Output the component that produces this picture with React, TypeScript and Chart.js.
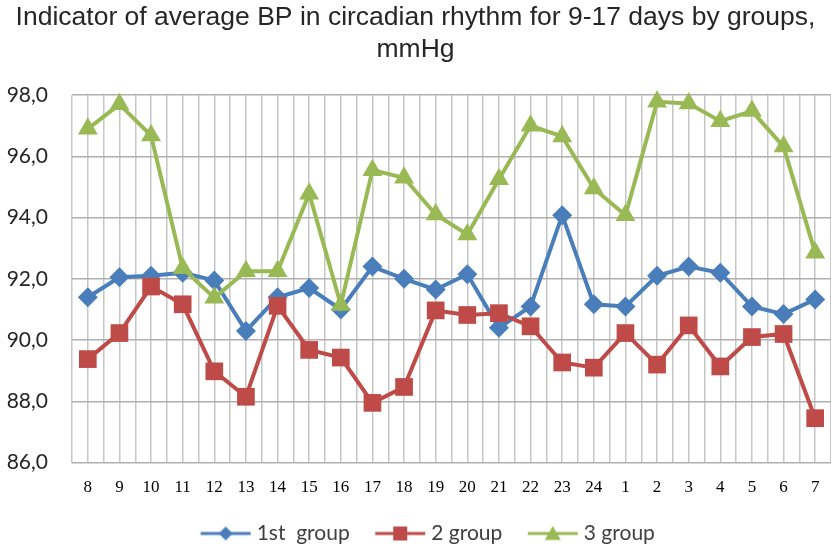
import React, { useEffect, useRef } from "react";
import { Chart, registerables } from "chart.js";

Chart.register(...registerables);

const hours = ["8","9","10","11","12","13","14","15","16","17","18","19","20","21","22","23","24","1","2","3","4","5","6","7"];
const group1 = [91.4,92.05,92.1,92.2,91.95,90.3,91.4,91.7,91.0,92.4,92.0,91.65,92.15,90.4,91.1,94.08,91.17,91.1,92.1,92.4,92.2,91.1,90.85,91.33];
const group2 = [89.38,90.23,91.75,91.17,88.98,88.15,91.12,89.68,89.43,87.95,88.47,90.97,90.82,90.88,90.45,89.27,89.1,90.23,89.2,90.48,89.14,90.1,90.2,87.45];
const group3 = [96.9,97.7,96.68,92.35,91.38,92.25,92.25,94.78,91.15,95.55,95.3,94.1,93.45,95.25,97.0,96.65,94.95,94.08,97.78,97.73,97.15,97.48,96.32,92.85];
const seriesNames = ["1st  group", "2 group", "3 group"];
const seriesColors = ["#4a7ebb", "#be4b48", "#98b954"];
const seriesMarkers = ["rectRot", "rect", "triangle"];
const markerRadius = [10, 12.5, 11.5];
const yTicks = { min: 86, max: 98, step: 2 };
const titleLines = ["Indicator of average BP in circadian rhythm for 9-17 days by groups,", "mmHg"];

function legendIcon(color: string, marker: string) {
  // 83px wide canvas, visible icon occupies x 31..81 (left part blank for spacing)
  const c = document.createElement("canvas");
  c.width = 83;
  c.height = 18;
  const ctx = c.getContext("2d")!;
  ctx.strokeStyle = color;
  ctx.fillStyle = color;
  ctx.lineWidth = 3;
  ctx.beginPath();
  ctx.moveTo(31, 9);
  ctx.lineTo(81, 9);
  ctx.stroke();
  const cx = 56;
  ctx.beginPath();
  if (marker === "rectRot") {
    ctx.moveTo(cx, 2); ctx.lineTo(cx + 7, 9); ctx.lineTo(cx, 16); ctx.lineTo(cx - 7, 9);
  } else if (marker === "rect") {
    ctx.rect(cx - 7, 2, 14, 14);
  } else {
    ctx.moveTo(cx, 1.5); ctx.lineTo(cx + 8, 15.5); ctx.lineTo(cx - 8, 15.5);
  }
  ctx.closePath();
  ctx.fill();
  return c;
}

export default function App() {
  const ref = useRef<HTMLCanvasElement | null>(null);
  useEffect(() => {
    document.body.style.margin = "0";
    const values = [group1, group2, group3];
    const icons = seriesColors.map((c, i) => legendIcon(c, seriesMarkers[i]));
    const chart = new Chart(ref.current!, {
      type: "line",
      data: {
        datasets: values.map((vals, i) => ({
          label: seriesNames[i],
          data: vals.map((v, j) => ({ x: j, y: v })),
          borderColor: seriesColors[i],
          backgroundColor: seriesColors[i],
          borderWidth: 4,
          pointStyle: seriesMarkers[i] as any,
          pointRadius: markerRadius[i],
          pointBorderWidth: 0,
          pointBackgroundColor: seriesColors[i],
          pointBorderColor: seriesColors[i],
          tension: 0,
          order: 3 - i,
          clip: false as any,
        })),
      },
      options: {
        responsive: false,
        animation: false,
        layout: { autoPadding: false, padding: { left: 0, right: 0, top: 0, bottom: -6 } },
        plugins: {
          tooltip: { enabled: false },
          title: {
            display: true,
            text: titleLines,
            color: "#262626",
            font: { family: "'Liberation Sans', Arial, sans-serif", size: 26.5, weight: "normal", lineHeight: 1.21 },
            padding: { top: 2, bottom: 29 },
          },
          legend: {
            position: "bottom",
            labels: {
              usePointStyle: true,
              pointStyleWidth: 70,
              padding: 1,
              color: "#404040",
              font: { family: "Lato, 'Open Sans', sans-serif", size: 21 },
              generateLabels: () =>
                seriesNames.map((n, i) => ({
                  text: n,
                  pointStyle: icons[i] as any,
                  fillStyle: seriesColors[i],
                  strokeStyle: seriesColors[i],
                  lineWidth: 0,
                  hidden: false,
                  datasetIndex: i,
                  fontColor: "#404040",
                })),
            },
          },
        },
        scales: {
          x: {
            type: "linear",
            min: -0.5,
            max: hours.length - 0.5,
            border: { display: false },
            grid: { color: "#c6c6c6", lineWidth: 1.5, drawTicks: false },
            afterFit: (s: any) => { s.paddingRight = 0; s.paddingLeft = 0; s.height += 9; },
            ticks: {
              stepSize: 0.5,
              autoSkip: false,
              maxRotation: 0,
              padding: 15,
              color: "#000",
              font: { family: "'Liberation Serif', 'Times New Roman', serif", size: 17 },
              callback: (v: any) => {
                const n = Number(v);
                return Number.isInteger(n) && n >= 0 && n < hours.length ? hours[n] : "";
              },
            },
          },
          y: {
            min: yTicks.min,
            max: yTicks.max,
            border: { display: false },
            grid: { color: "#b0b0b0", lineWidth: 1.5, drawTicks: false },
            afterFit: (s: any) => { s.width = 72; },
            ticks: {
              stepSize: yTicks.step,
              padding: 24,
              color: "#262626",
              font: { family: "Lato, 'Open Sans', sans-serif", size: 21 },
              callback: (v: any) => Number(v).toFixed(1).replace(".", ","),
            },
          },
        },
      },
    });
    return () => chart.destroy();
  }, []);
  return (
    <div style={{ width: 831, height: 548 }}>
      <canvas ref={ref} width={831} height={548} />
    </div>
  );
}
